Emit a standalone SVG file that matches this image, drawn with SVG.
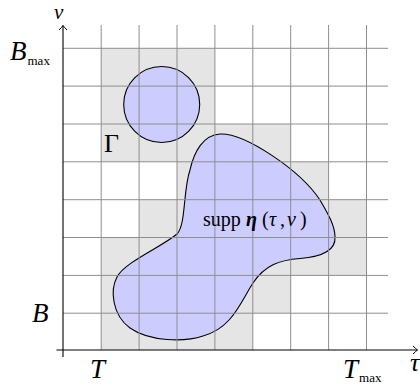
<svg xmlns="http://www.w3.org/2000/svg" width="420" height="386" viewBox="0 0 420 386">
  <style>
    .cell { fill: #e5e5e5; stroke: none; }
    .grid line { stroke: #8e8e8e; stroke-width: 1; }
    .region { fill: #ccccff; stroke: #000; stroke-width: 1.1; }
    .axis { stroke: #000; stroke-width: 1.1; fill: none; }
    .lbl { font-family: "Liberation Serif", "DejaVu Serif", serif; fill: #000; }
    .it { font-style: italic; }
  </style>
  <defs>
    <marker id="arr" markerWidth="12" markerHeight="12" refX="0" refY="0" viewBox="-6 -6 12 12" orient="auto" markerUnits="userSpaceOnUse">
      <path d="M -4.5,-4 Q -1.5,-1 0,0 Q -1.5,1 -4.5,4" fill="none" stroke="#000" stroke-width="1"/>
    </marker>
  </defs>

  <g id="cells">
    <rect class="cell" x="101.2" y="48.3" width="113.7" height="75.7"/>
    <rect class="cell" x="101.2" y="124" width="189.5" height="37.8"/>
    <rect class="cell" x="177" y="161.8" width="151.6" height="37.9"/>
    <rect class="cell" x="139.1" y="199.7" width="227.4" height="37.8"/>
    <rect class="cell" x="101.2" y="237.5" width="265.3" height="37.9"/>
    <rect class="cell" x="101.2" y="275.4" width="189.5" height="37.8"/>
    <rect class="cell" x="101.2" y="313.2" width="151.6" height="36.8"/>
  </g>

  <g id="gamma-disk">
    <circle class="region" cx="161.7" cy="104.5" r="38"/>
  </g>

  <g id="support">
    <path class="region" d="M 220,134 C 245,133 300,170 320,200 C 327,212 335,225 335,237 C 336,252 318,257 300,258.5 C 280,260 265,265 253,283 C 240,303 232,328 203,336 C 185,342 150,342 130,328 C 112,315 110,290 117,277 C 125,262 160,248 177,234 C 186,225 183,190 190,170 C 194,152 203,135 220,134 Z"/>
  </g>

  <g class="grid" id="grid">
    <line x1="101.2" y1="25" x2="101.2" y2="350"/>
    <line x1="139.1" y1="25" x2="139.1" y2="350"/>
    <line x1="177" y1="25" x2="177" y2="350"/>
    <line x1="214.9" y1="25" x2="214.9" y2="350"/>
    <line x1="252.8" y1="25" x2="252.8" y2="350"/>
    <line x1="290.7" y1="25" x2="290.7" y2="350"/>
    <line x1="328.6" y1="25" x2="328.6" y2="350"/>
    <line x1="366.5" y1="25" x2="366.5" y2="350"/>
    <line x1="63" y1="48.3" x2="388" y2="48.3"/>
    <line x1="63" y1="86.1" x2="388" y2="86.1"/>
    <line x1="63" y1="124" x2="388" y2="124"/>
    <line x1="63" y1="161.8" x2="388" y2="161.8"/>
    <line x1="63" y1="199.7" x2="388" y2="199.7"/>
    <line x1="63" y1="237.5" x2="388" y2="237.5"/>
    <line x1="63" y1="275.4" x2="388" y2="275.4"/>
    <line x1="63" y1="313.2" x2="388" y2="313.2"/>
  </g>

  <g id="connectors">
    <line class="axis" x1="63" y1="357" x2="63" y2="25.5" marker-end="url(#arr)"/>
    <line class="axis" x1="56.5" y1="350" x2="417.5" y2="350" marker-end="url(#arr)"/>
  </g>

  <g id="labels">
    <text class="lbl it" x="54" y="19" font-size="21">ν</text>
    <text class="lbl" x="10" y="60" font-size="27"><tspan class="it">B</tspan><tspan font-size="13" dy="5" dx="1">max</tspan></text>
    <text class="lbl it" x="32" y="322" font-size="27">B</text>
    <text class="lbl it" x="90" y="378" font-size="27">T</text>
    <text class="lbl" x="343" y="378" font-size="27"><tspan class="it">T</tspan><tspan font-size="13" dy="4" dx="1">max</tspan></text>
    <text class="lbl it" x="410" y="371" font-size="26">τ</text>
    <text class="lbl" x="104" y="152" font-size="26">Γ</text>
    <text class="lbl" x="203" y="226" font-size="20"><tspan>supp</tspan><tspan x="246" font-weight="bold" font-style="italic">η</tspan><tspan x="262">(</tspan><tspan x="269" font-style="italic">τ</tspan><tspan x="280">,</tspan><tspan x="287" font-style="italic">ν</tspan><tspan x="300">)</tspan></text>
  </g>
</svg>
